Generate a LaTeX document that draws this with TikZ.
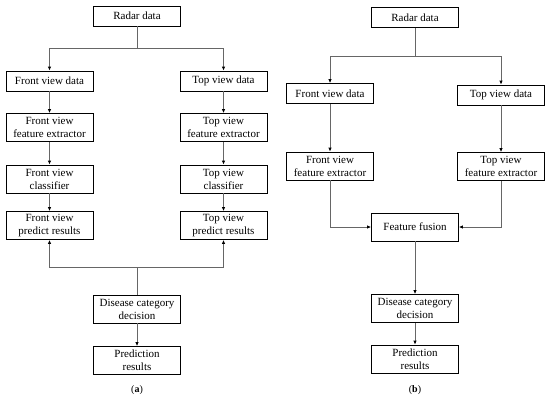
\documentclass[tikz,border=0pt]{standalone}
\usepackage{fontspec}
\setmainfont{Liberation Serif}
\usetikzlibrary{arrows.meta}

\begin{document}
\begin{tikzpicture}[x=1pt, y=-1pt,
  box/.style={draw, line width=0.8pt, fill=white, align=center, inner sep=0pt,
    minimum width=87pt, font=\fontsize{11}{13}\selectfont},
  onebox/.style={box, minimum height=20pt},
  twobox/.style={box, minimum height=28pt},
  link/.style={draw=black!60, line width=0.8pt},
  arr/.style={link, -{Latex[length=4pt, width=3.5pt, black]}}]
  \useasboundingbox (0,0) rectangle (550,400);
  % draw boxes of part (a)
  \node[onebox] (radarA) at (137,16) {Radar data};
  \node[onebox] (frontdataA) at (49.5,81) {Front view data};
  \node[onebox] (topdataA) at (223.5,81) {Top view data};
  \node[twobox] (frontextrA) at (49.5,127.5) {Front view\\feature extractor};
  \node[twobox] (topextrA) at (223.5,127.5) {Top view\\feature extractor};
  \node[twobox] (frontclassA) at (49.5,179) {Front view\\classifier};
  \node[twobox] (topclassA) at (223.5,179) {Top view\\classifier};
  \node[twobox] (frontpredA) at (49.5,225.5) {Front view\\predict results};
  \node[twobox] (toppredA) at (223.5,225.5) {Top view\\predict results};
  \node[twobox] (decisionA) at (137,309) {Disease category\\decision};
  \node[twobox] (resultA) at (137,360.5) {Prediction\\results};
  \node (labelA) at (137,390) {(\textbf{a})};
  \coordinate (splitA) at (137,48);
  \coordinate (joinA) at (137,267);
  % draw connectors of part (a)
  \draw[link] (radarA) -- (splitA);
  \draw[arr] (splitA) -| (frontdataA);
  \draw[arr] (splitA) -| (topdataA);
  \draw[arr] (frontdataA) -- (frontextrA);
  \draw[arr] (topdataA) -- (topextrA);
  \draw[arr] (frontextrA) -- (frontclassA);
  \draw[arr] (topextrA) -- (topclassA);
  \draw[arr] (frontclassA) -- (frontpredA);
  \draw[arr] (topclassA) -- (toppredA);
  \draw[link] (decisionA) -- (joinA);
  \draw[arr] (joinA) -| (frontpredA);
  \draw[arr] (joinA) -| (toppredA);
  \draw[arr] (decisionA) -- (resultA);
  % draw boxes of part (b)
  \node[onebox] (radarB) at (415,17.5) {Radar data};
  \node[onebox] (frontdataB) at (330,93.5) {Front view data};
  \node[onebox] (topdataB) at (501,95) {Top view data};
  \node[twobox] (frontextrB) at (330,166) {Front view\\feature extractor};
  \node[twobox] (topextrB) at (501,166.5) {Top view\\feature extractor};
  \node[twobox] (fusionB) at (415,227) {Feature fusion};
  \node[twobox] (decisionB) at (415,308.5) {Disease category\\decision};
  \node[twobox] (resultB) at (415,359) {Prediction\\results};
  \node (labelB) at (415,390) {(\textbf{b})};
  \coordinate (splitB) at (415,56);
  % draw connectors of part (b)
  \draw[link] (radarB) -- (splitB);
  \draw[arr] (splitB) -| (frontdataB);
  \draw[arr] (splitB) -| (topdataB);
  \draw[arr] (frontdataB) -- (frontextrB);
  \draw[arr] (topdataB) -- (topextrB);
  \draw[arr] (frontextrB) |- (fusionB);
  \draw[arr] (topextrB) |- (fusionB);
  \draw[arr] (fusionB) -- (decisionB);
  \draw[arr] (decisionB) -- (resultB);
\end{tikzpicture}
\end{document}
